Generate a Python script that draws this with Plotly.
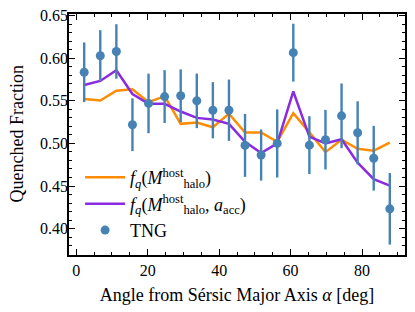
import plotly.graph_objects as go

angle = [2.25 + 4.5 * i for i in range(20)]
tng = [0.5836, 0.603, 0.608, 0.522, 0.547, 0.555, 0.556, 0.550, 0.539, 0.539,
       0.4977, 0.4864, 0.500, 0.6066, 0.498, 0.5044, 0.5324, 0.5125, 0.4826, 0.4232]
tng_err = [0.035, 0.030, 0.032, 0.031, 0.035, 0.031, 0.031, 0.032, 0.033, 0.036,
           0.037, 0.030, 0.040, 0.034, 0.034, 0.035, 0.038, 0.037, 0.038, 0.042]
fq_mhalo = [0.5523, 0.5504, 0.562, 0.5637, 0.5485, 0.5555, 0.523, 0.5245, 0.519, 0.535,
            0.5128, 0.5128, 0.502, 0.5355, 0.513, 0.4898, 0.5044, 0.4937, 0.4915, 0.501]
fq_mhalo_aacc = [0.5687, 0.5734, 0.586, 0.558, 0.5465, 0.5465, 0.5375, 0.530, 0.528, 0.523,
                 0.502, 0.4887, 0.500, 0.561, 0.508, 0.500, 0.505, 0.4775, 0.458, 0.4505]

FONT = "Liberation Serif"

fig = go.Figure()
fig.add_trace(go.Scatter(
    x=angle, y=fq_mhalo, mode="lines",
    line=dict(color="#FF8C00", width=2.5),
    name="<i>f</i><sub><i>q</i></sub>(<i>M</i><sup>host</sup><sub>halo</sub>)",
))
fig.add_trace(go.Scatter(
    x=angle, y=fq_mhalo_aacc, mode="lines",
    line=dict(color="#8A2BE2", width=2.5),
    name="<i>f</i><sub><i>q</i></sub>(<i>M</i><sup>host</sup><sub>halo</sub>, <i>a</i><sub>acc</sub>)",
))
fig.add_trace(go.Scatter(
    x=angle, y=tng, mode="markers",
    marker=dict(color="#4682B4", size=9),
    error_y=dict(type="data", array=tng_err, visible=True,
                 color="#4682B4", thickness=2.4, width=0),
    name="TNG",
))

axis_common = dict(
    showline=True, linecolor="black", linewidth=1.5, mirror="ticks",
    ticks="inside", ticklen=6, tickwidth=1.2, tickcolor="black",
    showgrid=False, zeroline=False, automargin=False,
    ticklabeloverflow="allow",
    tickfont=dict(family=FONT, size=16, color="black"),
)

fig.update_xaxes(
    range=[-2, 92], tickvals=[0, 20, 40, 60, 80],
    minor=dict(ticks="inside", ticklen=3, tickwidth=1, tickcolor="black", dtick=5, tick0=0),
    title=dict(text="Angle from Sérsic Major Axis <i>α</i> [deg]",
               font=dict(family=FONT, size=18, color="black"), standoff=10),
    **axis_common,
)
fig.update_yaxes(
    range=[0.369, 0.652], tickvals=[0.40, 0.45, 0.50, 0.55, 0.60, 0.65],
    ticktext=["0.40", "0.45", "0.50", "0.55", "0.60", "0.65"],
    minor=dict(ticks="inside", ticklen=3, tickwidth=1, tickcolor="black", dtick=0.01, tick0=0.40),
    ticklabelstandoff=-4,
    **axis_common,
)

# y-axis title placed as an annotation so it sits where the reference has it
fig.add_annotation(
    text="Quenched Fraction", textangle=-90, showarrow=False,
    xref="paper", yref="paper", x=-0.1577, y=0.5, xanchor="center", yanchor="middle",
    font=dict(family=FONT, size=18, color="black"),
)

# the page body adds an 8px offset, so margins are reduced by 8 on left/top
fig.update_layout(
    width=415, height=312,
    margin=dict(l=61, r=18, t=6, b=65),
    plot_bgcolor="white", paper_bgcolor="white",
    showlegend=True,
    legend=dict(x=0.033, y=0.398, xanchor="left", yanchor="top",
                bgcolor="rgba(0,0,0,0)", font=dict(family=FONT, size=18, color="black"),
                itemwidth=40, tracegroupgap=0),
)

fig.write_html("out.html")
